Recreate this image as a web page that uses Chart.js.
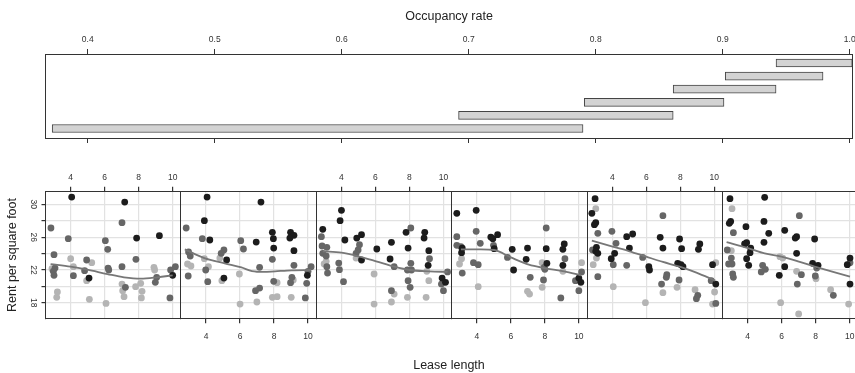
<!DOCTYPE html>
<html>
<head>
<meta charset="utf-8">
<script src="https://cdn.jsdelivr.net/npm/chart.js@4.4.1/dist/chart.umd.min.js"></script>
<style>
  html, body { margin: 0; padding: 0; background: #fff; overflow: hidden; }
  #wrap { position: relative; width: 855px; height: 373px; overflow: hidden; }
  #wrap canvas { position: absolute; left: 0; top: 0; }
  #xlabel { position: absolute; left: 0; width: 898px; top: 358px; text-align: center;
            font: 12.5px "Liberation Sans", Arial, sans-serif; color: #222; }
</style>
</head>
<body>
<div id="wrap">
  <canvas id="occ" width="855" height="373"></canvas>
  <canvas id="p0" width="870" height="373"></canvas>
  <canvas id="p1" width="870" height="373"></canvas>
  <canvas id="p2" width="870" height="373"></canvas>
  <canvas id="p3" width="870" height="373"></canvas>
  <canvas id="p4" width="870" height="373"></canvas>
  <canvas id="p5" width="870" height="373"></canvas>
  <div id="xlabel">Lease length</div>
</div>
<script>
// occupancy rate intervals, bottom bar first
const occLow  = [0.372, 0.692, 0.791, 0.861, 0.902, 0.942];
const occHigh = [0.790, 0.861, 0.901, 0.942, 0.979, 1.002];
const occTicks = [0.4, 0.5, 0.6, 0.7, 0.8, 0.9, 1.0];

const leaseTicks = [4, 6, 8, 10];
const rentTicks = [18, 20, 22, 24, 26, 28, 30];
const rentLabels = [18, 22, 26, 30];

// [lease length, rent, shade]  shade: 0 black, 1 dark grey, 2 light grey
const panel1 = [[4.06,30.89,0],[7.18,30.28,0],[7.02,27.76,1],[2.84,27.11,1],[3.86,25.81,1],[6.04,25.57,1],[7.88,25.89,0],[9.22,26.18,0],[6.18,24.51,1],[3.02,23.86,1],[4.0,23.37,2],[4.94,23.21,1],[5.24,22.88,2],[7.84,23.29,1],[3.08,22.23,1],[2.98,21.83,1],[3.02,21.34,1],[2.90,22.15,2],[4.16,22.40,2],[4.82,21.91,1],[6.20,22.23,1],[6.24,21.99,1],[7.02,22.40,1],[8.90,22.32,2],[8.94,21.99,2],[4.16,21.30,1],[5.08,21.01,0],[4.94,20.69,2],[9.06,21.10,1],[8.98,20.49,1],[9.88,21.99,1],[10.16,22.40,1],[10.0,21.34,0],[7.02,20.28,2],[7.22,19.88,1],[7.82,19.96,2],[8.12,20.36,2],[8.20,19.39,2],[3.22,19.31,2],[3.18,18.66,2],[5.10,18.41,2],[6.08,17.92,2],[7.14,18.74,2],[8.16,18.58,2],[9.84,18.58,1],[7.06,19.47,2]];
const panel2 = [[4.06,30.89,0],[7.23,30.28,0],[3.90,28.01,0],[2.83,27.11,1],[3.78,25.81,1],[4.22,25.65,0],[6.04,25.57,1],[6.95,25.40,0],[7.90,26.58,0],[7.96,25.81,0],[8.97,26.58,0],[9.17,26.22,0],[8.93,25.89,0],[6.20,24.55,1],[7.98,24.67,0],[9.17,24.35,0],[2.97,24.19,1],[3.07,23.70,1],[5.05,24.43,1],[4.89,24.02,1],[2.91,22.72,2],[3.11,22.48,2],[3.90,23.37,2],[4.81,23.45,2],[5.21,23.21,0],[7.90,23.29,1],[9.17,22.56,1],[3.98,21.99,1],[4.14,22.40,2],[7.15,22.32,1],[10.18,22.40,1],[10.0,21.83,1],[2.95,21.26,1],[5.96,21.50,2],[5.05,21.01,0],[4.10,20.57,1],[4.93,20.69,2],[7.98,20.61,1],[8.18,20.45,2],[9.05,21.10,1],[9.13,20.77,2],[8.97,20.45,1],[9.96,21.34,0],[9.92,20.36,1],[7.15,19.79,1],[6.91,19.47,1],[6.99,18.09,2],[6.0,17.84,2],[7.90,18.66,2],[8.18,18.74,2],[9.01,18.66,2],[9.84,18.58,1]];
const panel3 = [[4.0,29.27,0],[3.92,28.01,0],[2.90,26.95,0],[2.82,26.06,1],[4.20,25.65,0],[5.18,26.30,0],[4.90,25.89,0],[5.06,25.08,1],[4.98,24.43,1],[4.86,24.02,1],[2.86,24.92,1],[3.14,24.75,1],[6.08,24.55,0],[6.94,25.36,0],[8.08,27.11,1],[7.80,26.58,0],[8.90,26.58,0],[8.86,25.89,0],[7.92,24.67,0],[9.14,24.35,0],[9.18,23.37,1],[6.86,23.33,0],[5.18,23.21,0],[4.86,23.45,2],[2.90,24.02,1],[3.10,23.70,1],[3.10,23.05,2],[2.98,22.72,2],[3.84,22.84,1],[3.88,22.03,1],[3.14,22.40,1],[3.18,21.62,1],[7.10,22.40,1],[8.08,22.80,1],[7.88,21.99,1],[8.12,21.99,1],[9.10,22.56,0],[9.02,21.83,2],[5.92,21.50,2],[4.12,20.57,1],[7.92,20.69,1],[8.04,19.88,1],[9.14,20.69,2],[10.24,21.75,1],[9.92,21.01,0],[10.12,20.49,0],[9.88,20.28,1],[10.0,19.47,1],[6.94,19.47,1],[7.10,19.06,2],[7.88,18.66,2],[8.98,18.66,2],[6.94,18.09,2],[5.92,17.84,2]];
const panel4 = [[2.82,28.90,0],[3.96,29.27,0],[3.96,26.71,1],[2.82,26.06,1],[4.82,26.01,0],[5.22,26.30,0],[4.94,25.81,0],[4.20,25.24,1],[8.08,27.11,1],[2.82,25.00,1],[3.06,24.84,1],[3.14,24.67,0],[3.10,24.10,0],[4.98,25.00,1],[5.02,24.59,0],[6.08,24.51,0],[6.98,24.67,0],[8.08,24.59,0],[9.14,25.16,0],[9.06,24.51,0],[5.80,23.53,1],[6.90,23.29,0],[9.18,23.37,1],[3.10,23.37,2],[2.98,22.72,2],[3.80,22.88,1],[4.08,22.64,1],[7.84,22.88,2],[8.12,22.80,0],[7.96,22.32,1],[8.0,22.07,1],[9.06,22.56,0],[9.06,21.83,2],[10.16,22.88,2],[3.14,21.62,1],[6.16,21.99,0],[7.14,21.10,1],[7.92,20.77,1],[10.16,21.75,1],[10.0,21.01,0],[10.12,20.49,0],[9.80,20.69,1],[10.0,19.47,1],[4.08,19.96,2],[6.98,19.39,2],[7.10,19.06,2],[7.84,19.88,2],[8.94,18.58,1]];
const panel5 = [[2.99,30.69,0],[3.03,29.47,2],[2.80,28.90,0],[3.03,27.76,0],[2.95,27.52,0],[3.15,26.46,1],[3.98,26.71,1],[6.98,28.62,1],[4.85,26.06,0],[5.20,26.38,0],[6.82,25.97,0],[7.96,25.77,0],[4.22,25.24,1],[9.15,25.16,0],[9.07,24.51,0],[6.98,24.67,0],[8.08,24.59,0],[5.01,24.67,0],[2.84,24.43,1],[3.07,24.75,0],[3.03,24.27,0],[3.15,24.02,0],[4.14,24.02,0],[3.94,23.37,0],[3.07,23.45,2],[5.79,23.53,1],[2.88,22.64,2],[4.06,22.64,1],[4.85,22.56,1],[6.15,22.40,0],[6.19,21.99,0],[7.85,22.80,0],[8.04,22.64,0],[8.16,22.40,0],[9.90,22.64,0],[10.09,22.88,2],[3.15,21.18,1],[7.21,21.42,1],[7.18,21.10,1],[7.93,20.77,1],[6.90,20.28,1],[4.06,19.96,2],[7.81,19.88,2],[6.98,19.23,2],[8.87,19.59,2],[9.03,18.90,1],[8.95,18.49,1],[9.82,20.69,1],[10.09,20.28,0],[10.02,19.31,2],[9.90,17.84,2],[10.09,17.92,1],[5.95,18.01,2]];
const panel6 = [[2.96,30.69,0],[5.0,30.85,0],[3.08,29.47,2],[7.04,28.62,1],[3.0,27.92,0],[2.92,27.68,0],[4.96,27.92,0],[3.90,27.27,0],[3.16,26.54,1],[5.24,26.46,0],[6.18,26.83,0],[6.88,26.06,0],[6.80,25.89,0],[7.94,25.77,0],[3.94,25.32,0],[3.82,25.16,0],[4.96,25.36,0],[2.80,24.43,1],[3.04,24.35,2],[4.18,24.67,0],[4.14,24.10,0],[6.88,24.02,0],[3.94,23.37,0],[5.90,23.62,2],[6.06,23.45,2],[3.04,23.45,1],[2.88,22.72,1],[3.08,22.72,1],[4.06,22.56,0],[4.88,22.56,1],[5.04,22.07,1],[4.80,21.75,1],[6.18,22.40,0],[7.82,22.80,0],[8.14,22.56,0],[8.06,22.23,1],[6.88,21.83,2],[7.16,21.42,1],[5.86,21.34,0],[3.12,21.50,1],[3.16,21.10,1],[7.98,21.26,1],[8.02,20.93,2],[6.92,20.28,1],[9.86,22.64,0],[10.02,22.88,1],[10.02,23.45,0],[8.88,19.59,2],[9.04,18.90,1],[10.02,20.28,0],[5.94,18.01,2],[9.94,17.84,2],[7.0,16.63,2]];

// smooth (loess) curve
const smooth1 = [[2.82,22.72],[4.0,22.40],[4.98,22.03],[6.16,21.50],[7.14,21.10],[8.12,20.93],[9.10,21.10],[10.0,21.34]];
const smooth2 = [[2.75,24.51],[3.90,23.45],[5.09,22.80],[6.08,22.30],[6.7,21.85],[7.4,21.75],[8.06,21.83],[9.05,21.95],[10.16,21.99]];
const smooth3 = [[2.90,24.27],[4.0,24.10],[5.06,23.62],[6.04,23.05],[7.10,22.40],[8.0,21.99],[9.18,21.83],[10.24,21.75]];
const smooth4 = [[3.06,24.51],[4.24,24.51],[5.02,24.43],[6.0,23.53],[7.06,22.64],[7.96,22.23],[9.14,21.83],[10.12,21.34]];
const smooth5 = [[2.80,25.57],[4.02,24.84],[5.01,24.27],[5.99,23.62],[6.98,22.97],[7.96,22.40],[8.95,21.67],[10.06,20.69]];
const smooth6 = [[2.76,25.40],[4.02,24.67],[5.0,24.02],[5.98,23.62],[6.96,23.05],[7.94,22.40],[8.92,21.83],[10.02,21.18]];

const shadeColors = ['#1c1c1c', '#666666', '#b4b4b4'];
const fontFamily = '"Liberation Sans", Arial, Helvetica, sans-serif';
const tickFont = { family: fontFamily, size: 8.5 };
const titleFont = { family: fontFamily, size: 12.5 };
const frame = '#333';

// force an axis to a fixed thickness so the panels line up
function fixSize(px) {
    return function (scale) {
        if (scale.isHorizontal()) scale.height = px; else scale.width = px;
        scale.paddingLeft = scale.paddingRight = scale.paddingTop = scale.paddingBottom = 0;
    };
}
function setTicks(values) {
    return function (scale) { scale.ticks = values.map(v => ({ value: v })); };
}
function plainBorder(position, extra) {
    return Object.assign({
        type: 'linear', position: position, offset: false, afterFit: fixSize(0),
        ticks: { display: false }, grid: { display: false },
        border: { color: frame, width: 1 }
    }, extra);
}

// conditioning panel (occupancy rate intervals)
new Chart(document.getElementById('occ'), {
    type: 'bar',
    data: {
        datasets: [{
            data: occLow.map((lo, i) => ({ x: [lo, occHigh[i]], y: i + 1 })),
            backgroundColor: '#d3d3d3',
            borderColor: '#444',
            borderWidth: 1,
            borderSkipped: false,
            barThickness: 8
        }]
    },
    options: {
        indexAxis: 'y',
        responsive: false,
        animation: false,
        events: [],
        layout: { padding: { left: 45.7, right: 2.5, top: 0, bottom: 229 } },
        plugins: { legend: { display: false }, tooltip: { enabled: false } },
        scales: {
            x: {
                type: 'linear', position: 'top', min: 0.3669, max: 1.0022,
                afterBuildTicks: setTicks(occTicks), afterFit: fixSize(54),
                ticks: { padding: 4, color: '#333', font: tickFont, callback: v => v.toFixed(1) },
                grid: { drawOnChartArea: false, tickLength: 5, tickColor: frame },
                border: { color: frame, width: 1 },
                title: { display: true, text: 'Occupancy rate', color: '#222', font: titleFont, padding: { top: 9.5 } }
            },
            x2: {
                type: 'linear', position: 'bottom', min: 0.3669, max: 1.0022,
                afterBuildTicks: setTicks(occTicks), afterFit: fixSize(6),
                ticks: { display: false },
                grid: { drawOnChartArea: false, tickLength: 5, tickColor: frame },
                border: { color: frame, width: 1 }
            },
            y: plainBorder('left', { min: 0.275, max: 6.687 }),
            y2: plainBorder('right', { min: 0.275, max: 6.687 })
        }
    }
});

// the six scatter panels
const panels = [panel1, panel2, panel3, panel4, panel5, panel6];
const smooths = [smooth1, smooth2, smooth3, smooth4, smooth5, smooth6];
const canvasW = 870, canvasH = 373;
const areaTop = 191.7, areaBottom = 318.3, panelW = 135.4, firstLeft = 45.5;

panels.forEach(function (points, k) {
    const left = firstLeft + panelW * k;
    const right = left + panelW;
    const onTop = k % 2 === 0;
    const first = k === 0;

    const datasets = [{
        type: 'line',
        data: smooths[k].map(p => ({ x: p[0], y: p[1] })),
        borderColor: '#777',
        borderWidth: 1.8,
        pointRadius: 0,
        cubicInterpolationMode: 'monotone',
        clip: 0
    }];
    [0, 1, 2].forEach(function (g) {
        datasets.push({
            type: 'scatter',
            data: points.filter(p => p[2] === g).map(p => ({ x: p[0], y: p[1] })),
            backgroundColor: shadeColors[g],
            borderWidth: 0,
            pointRadius: 3.4,
            clip: 0
        });
    });

    new Chart(document.getElementById('p' + k), {
        type: 'scatter',
        data: { datasets: datasets },
        options: {
            responsive: false,
            animation: false,
            events: [],
            layout: {
                padding: {
                    left: first ? 0 : left,
                    right: canvasW - right,
                    top: onTop ? areaTop - 20 : areaTop,
                    bottom: onTop ? canvasH - areaBottom : canvasH - areaBottom - 25
                }
            },
            plugins: { legend: { display: false }, tooltip: { enabled: false } },
            scales: {
                x: {
                    type: 'linear', position: onTop ? 'top' : 'bottom', min: 2.52, max: 10.485,
                    afterBuildTicks: setTicks(leaseTicks), afterFit: fixSize(onTop ? 20 : 25),
                    ticks: { padding: onTop ? 4.3 : 8.5, color: '#333', font: tickFont },
                    grid: { color: '#e2e2e2', lineWidth: 1.2, tickLength: 5, tickColor: frame },
                    border: { color: frame, width: 1 }
                },
                x2: plainBorder(onTop ? 'bottom' : 'top', { min: 2.52, max: 10.485 }),
                y: {
                    type: 'linear', position: 'left', min: 16.1, max: 31.54,
                    afterBuildTicks: setTicks(rentTicks), afterFit: fixSize(first ? firstLeft : 0),
                    ticks: {
                        display: first, padding: 3.8, color: '#333', font: tickFont,
                        minRotation: -90, maxRotation: -90, crossAlign: 'center',
                        callback: v => rentLabels.includes(v) ? String(v) : ''
                    },
                    grid: { color: '#e2e2e2', lineWidth: 1.2, drawTicks: first, tickLength: 4, tickColor: frame },
                    border: { color: frame, width: 1 },
                    title: { display: first, text: 'Rent per square foot', color: '#222', font: titleFont, padding: { top: 5.5 } }
                },
                y2: plainBorder('right', { min: 16.1, max: 31.54 })
            }
        }
    });
});
</script>
</body>
</html>
